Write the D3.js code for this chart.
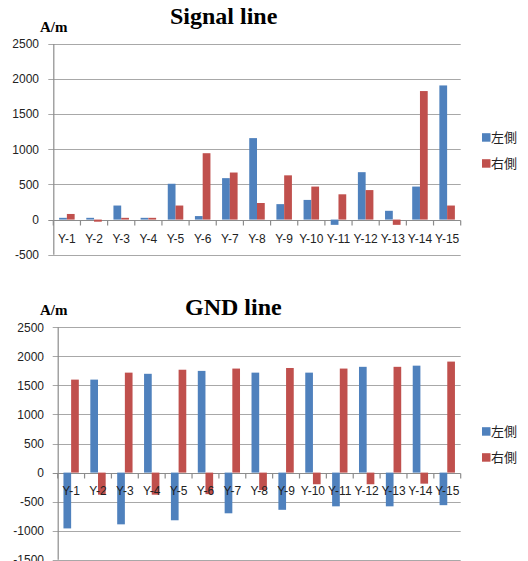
<!DOCTYPE html>
<html>
<head>
<meta charset="utf-8">
<script src="https://cdn.jsdelivr.net/npm/d3@7"></script>
<style>
  html, body { margin: 0; padding: 0; background: #fff; }
  svg { display: block; }
</style>
</head>
<body>
<script>
const categories = ["Y-1","Y-2","Y-3","Y-4","Y-5","Y-6","Y-7","Y-8","Y-9","Y-10","Y-11","Y-12","Y-13","Y-14","Y-15"];
const seriesNames = ["左側", "右側"];
const unitLabel = "A/m";
const signalTitle = "Signal line";
const signalLeft  = [25, 25, 200, 25, 510, 50, 590, 1160, 220, 280, -75, 675, 125, 470, 1910];
const signalRight = [80, -30, 25, 25, 200, 945, 670, 236, 630, 470, 360, 420, -75, 1830, 200];
const signalTicks = [2500, 2000, 1500, 1000, 500, 0, -500];
const gndTitle = "GND line";
const gndLeft  = [-960, 1600, -890, 1700, -820, 1750, -700, 1720, -640, 1720, -580, 1820, -580, 1840, -560];
const gndRight = [1600, -380, 1720, -380, 1770, -370, 1790, -300, 1800, -200, 1790, -200, 1820, -190, 1910];
const gndTicks = [2500, 2000, 1500, 1000, 500, 0, -500, -1000, -1500];
const colors = ["#4F81BD", "#C0504D"];

const svg = d3.select("body").append("svg").attr("width", 528).attr("height", 561);

function drawChart(o) {
  const g = svg.append("g");
  const x = d3.scaleBand().domain(categories).range([o.x0, o.x1]).padding(0);
  const y = d3.scaleLinear().domain([o.ticks[o.ticks.length - 1], o.ticks[0]]).range([o.yBottom, o.yTop]);
  const bw = x.bandwidth() / 3.5;

  // gridlines
  g.selectAll("line.grid").data(o.ticks).enter().append("line")
    .attr("x1", o.x0 - 5).attr("x2", o.x1)
    .attr("y1", d => Math.round(y(d)) + 0.5).attr("y2", d => Math.round(y(d)) + 0.5)
    .attr("stroke", d => d === 0 ? "#8c8c8c" : "#a8a8a8").attr("stroke-width", 1.2);

  // bars
  [o.left, o.right].forEach((vals, si) => {
    g.selectAll("rect.s" + si).data(vals).enter().append("rect")
      .attr("x", (d, i) => x(categories[i]) + x.bandwidth() / 2 - bw + si * bw)
      .attr("width", bw)
      .attr("y", d => y(Math.max(0, d)))
      .attr("height", d => Math.abs(y(d) - y(0)))
      .attr("fill", colors[si]);
  });

  // y axis line
  g.append("line").attr("x1", o.x0 + 0.5).attr("x2", o.x0 + 0.5)
    .attr("y1", o.yTop).attr("y2", o.yBottom)
    .attr("stroke", "#8c8c8c").attr("stroke-width", 1.2);

  // x ticks at zero line
  const y0 = Math.round(y(0)) + 0.5;
  const edges = categories.map(c => x(c)).concat([o.x1]);
  g.selectAll("line.xt").data(edges).enter().append("line")
    .attr("x1", d => d).attr("x2", d => d)
    .attr("y1", y0).attr("y2", y0 + 5)
    .attr("stroke", "#8c8c8c").attr("stroke-width", 1.2);

  // y tick labels
  g.selectAll("text.yl").data(o.ticks).enter().append("text")
    .attr("x", o.yLabelX).attr("y", d => y(d))
    .attr("dy", "0.35em").attr("text-anchor", "end")
    .attr("font-family", "Liberation Sans, Arial, sans-serif").attr("font-size", 12)
    .attr("fill", "#222").text(d => d);

  // x labels
  g.selectAll("text.xl").data(categories).enter().append("text")
    .attr("x", d => x(d) + x.bandwidth() / 2).attr("y", o.xLabelY)
    .attr("text-anchor", "middle")
    .attr("font-family", "Liberation Sans, Arial, sans-serif").attr("font-size", 12)
    .attr("fill", "#222").text(d => d);

  // title
  g.append("text").attr("x", o.titleX).attr("y", o.titleY)
    .attr("font-family", "Liberation Serif, Times New Roman, serif")
    .attr("font-weight", "bold").attr("font-size", 24).attr("fill", "#000")
    .text(o.title);

  // unit
  g.append("text").attr("x", 40).attr("y", o.unitY)
    .attr("font-family", "Liberation Serif, Times New Roman, serif")
    .attr("font-weight", "bold").attr("font-size", 15).attr("fill", "#000")
    .text(unitLabel);

  // legend
  seriesNames.forEach((n, i) => {
    const ly = o.legendY + i * o.legendStep;
    g.append("rect").attr("x", 482).attr("y", ly - 8.5).attr("width", 8.5).attr("height", 8.5)
      .attr("fill", colors[i]);
    g.append("text").attr("x", 491).attr("y", ly)
      .attr("font-family", "Noto Sans CJK JP, sans-serif").attr("font-size", 13)
      .attr("fill", "#222").text(n);
  });
}

drawChart({
  title: signalTitle, left: signalLeft, right: signalRight, ticks: signalTicks,
  x0: 53.3, x1: 460.7, yTop: 44, yBottom: 254.7,
  yLabelX: 39, xLabelY: 243, titleX: 170, titleY: 24, unitY: 31.5,
  legendY: 141.7, legendStep: 26
});

drawChart({
  title: gndTitle, left: gndLeft, right: gndRight, ticks: gndTicks,
  x0: 57.7, x1: 460.7, yTop: 327.3, yBottom: 559.8,
  yLabelX: 44, xLabelY: 495, titleX: 185, titleY: 315, unitY: 315,
  legendY: 435.7, legendStep: 26
});
</script>
</body>
</html>
